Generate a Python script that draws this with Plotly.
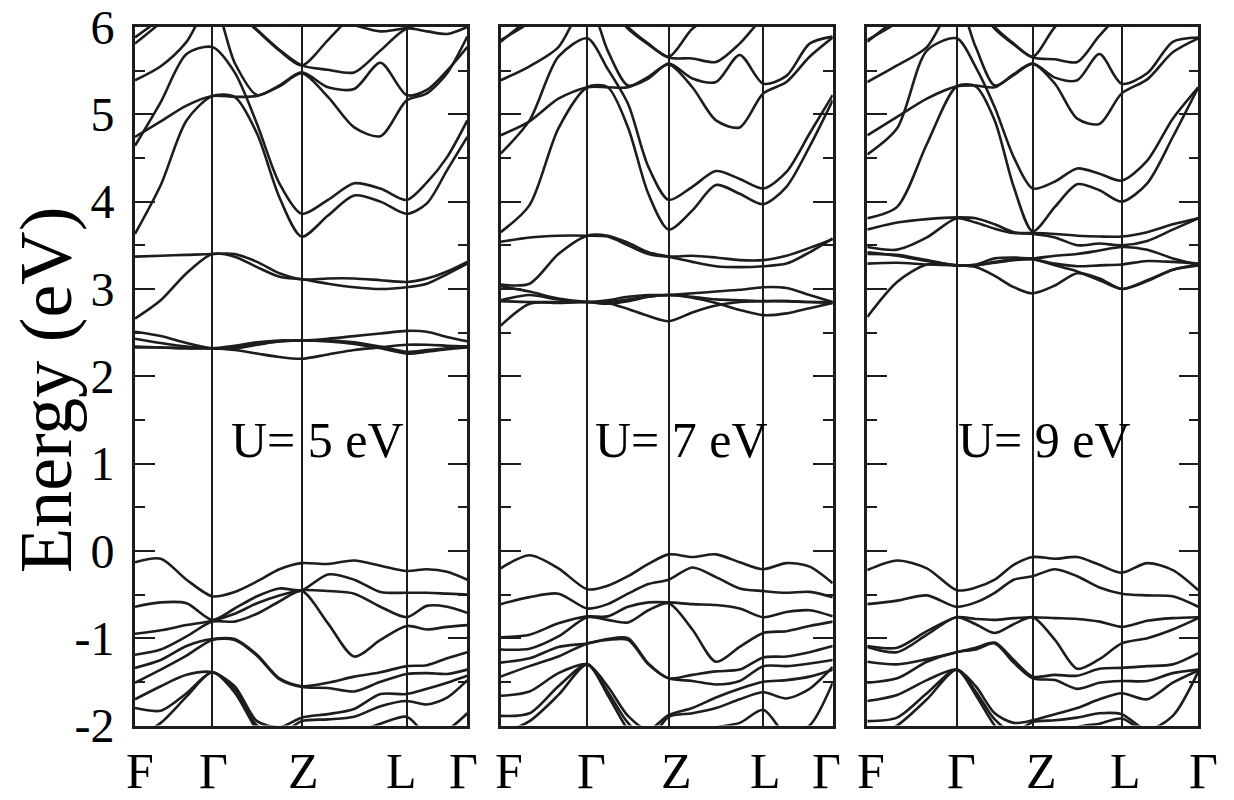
import numpy as np
import plotly.graph_objects as go

# k-path: positions of F, Gamma, Z, L, Gamma as a fraction of each panel
k_labels = ['F', 'Γ', 'Z', 'L', 'Γ']
kpath_u5 = [0.0, 0.2326, 0.5017, 0.8176, 1.0]
kpath_u7 = [0.0, 0.2608, 0.5060, 0.7910, 1.0]
kpath_u9 = [0.0, 0.2701, 0.4997, 0.7686, 1.0]
seg_steps = [3, 4, 4, 3]   # read-off points per path segment

# energies (eV), 15 points along the path
u5_conduction = [
    [2.33, 2.33, 2.32, 2.32, 2.30, 2.26, 2.22, 2.20, 2.25, 2.30, 2.33, 2.36, 2.36, 2.35, 2.34],
    [2.34, 2.33, 2.32, 2.32, 2.33, 2.37, 2.40, 2.41, 2.40, 2.37, 2.32, 2.26, 2.28, 2.31, 2.33],
    [2.43, 2.38, 2.34, 2.32, 2.35, 2.39, 2.41, 2.41, 2.43, 2.46, 2.49, 2.52, 2.51, 2.45, 2.40],
    [2.51, 2.46, 2.38, 2.32, 2.32, 2.36, 2.40, 2.41, 2.41, 2.39, 2.34, 2.28, 2.30, 2.32, 2.34],
    [2.66, 2.87, 3.18, 3.40, 3.37, 3.25, 3.14, 3.11, 3.06, 3.02, 3.00, 3.02, 3.06, 3.17, 3.29],
    [3.37, 3.38, 3.39, 3.40, 3.40, 3.31, 3.18, 3.11, 3.12, 3.12, 3.10, 3.08, 3.12, 3.20, 3.31],
    [3.63, 4.19, 4.93, 5.21, 5.20, 4.78, 4.05, 3.60, 3.84, 4.07, 4.00, 3.86, 3.98, 4.36, 4.74],
    [4.64, 5.14, 5.69, 5.77, 5.48, 4.89, 4.21, 3.86, 4.02, 4.21, 4.15, 4.02, 4.22, 4.51, 4.93],
    [4.74, 4.92, 5.10, 5.21, 5.20, 5.21, 5.32, 5.47, 5.20, 4.85, 4.75, 5.16, 5.24, 5.47, 5.89],
    [5.39, 5.55, 5.83, 6.30, 5.59, 5.22, 5.33, 5.48, 5.31, 5.29, 5.59, 5.22, 5.28, 5.50, 5.77],
    [5.81, 6.05, 6.30, 6.40, 6.19, 5.96, 5.73, 5.56, 5.85, 6.15, 6.30, 6.40, 6.40, 6.40, 6.40],
    [5.88, 6.10, 6.35, 6.45, 6.20, 5.97, 5.74, 5.56, 5.51, 5.48, 5.73, 5.98, 5.95, 5.92, 6.00],
    [6.30, 6.40, 6.50, 6.50, 6.45, 6.35, 6.25, 6.20, 6.10, 6.02, 5.95, 5.99, 6.05, 6.10, 6.10],
]
u5_valence = [
    [-0.13, -0.09, -0.33, -0.52, -0.47, -0.35, -0.21, -0.14, -0.15, -0.11, -0.17, -0.23, -0.21, -0.24, -0.33],
    [-0.64, -0.59, -0.60, -0.79, -0.66, -0.52, -0.43, -0.45, -0.27, -0.33, -0.47, -0.48, -0.48, -0.49, -0.50],
    [-0.95, -0.91, -0.85, -0.80, -0.72, -0.60, -0.51, -0.45, -0.46, -0.49, -0.64, -0.76, -0.63, -0.64, -0.71],
    [-1.19, -1.13, -0.98, -0.81, -0.81, -0.72, -0.58, -0.46, -0.83, -1.21, -1.02, -0.86, -0.90, -0.87, -0.85],
    [-1.34, -1.25, -1.09, -1.01, -1.01, -1.19, -1.46, -1.55, -1.51, -1.44, -1.39, -1.32, -1.31, -1.23, -1.16],
    [-1.51, -1.36, -1.20, -1.02, -1.02, -1.20, -1.47, -1.56, -1.57, -1.61, -1.50, -1.41, -1.40, -1.41, -1.36],
    [-1.70, -1.55, -1.42, -1.39, -1.55, -1.95, -2.02, -1.91, -1.87, -1.81, -1.64, -1.64, -1.58, -1.51, -1.43],
    [-1.80, -1.83, -1.63, -1.39, -1.58, -2.00, -2.10, -1.95, -1.93, -1.90, -1.78, -1.72, -1.76, -1.68, -1.48],
    [-2.15, -1.97, -1.67, -1.39, -1.62, -2.05, -2.30, -2.20, -2.10, -2.08, -1.98, -1.90, -2.10, -2.05, -1.86],
]

u7_conduction = [
    [2.58, 2.83, 2.84, 2.85, 2.84, 2.77, 2.69, 2.63, 2.73, 2.81, 2.85, 2.86, 2.86, 2.85, 2.84],
    [2.86, 2.85, 2.85, 2.85, 2.83, 2.86, 2.91, 2.93, 2.90, 2.84, 2.76, 2.70, 2.72, 2.78, 2.84],
    [2.87, 2.93, 2.88, 2.85, 2.87, 2.91, 2.93, 2.93, 2.95, 2.97, 2.99, 3.02, 3.01, 2.93, 2.85],
    [3.03, 2.97, 2.89, 2.85, 2.85, 2.88, 2.91, 2.93, 2.91, 2.88, 2.87, 2.86, 2.86, 2.85, 2.85],
    [3.05, 3.06, 3.40, 3.61, 3.61, 3.53, 3.42, 3.37, 3.31, 3.26, 3.25, 3.26, 3.29, 3.42, 3.58],
    [3.54, 3.59, 3.61, 3.61, 3.60, 3.50, 3.40, 3.37, 3.38, 3.36, 3.33, 3.33, 3.38, 3.47, 3.57],
    [3.65, 3.96, 4.84, 5.31, 5.31, 4.85, 4.09, 3.68, 3.90, 4.19, 4.09, 3.97, 4.17, 4.63, 5.16],
    [4.55, 4.93, 5.66, 5.87, 5.52, 5.12, 4.40, 4.02, 4.17, 4.35, 4.26, 4.15, 4.34, 4.78, 5.22],
    [4.76, 4.92, 5.18, 5.31, 5.31, 5.31, 5.43, 5.57, 5.31, 4.93, 4.85, 5.24, 5.37, 5.66, 5.88],
    [5.39, 5.55, 5.77, 6.30, 5.73, 5.33, 5.41, 5.58, 5.41, 5.37, 5.68, 5.35, 5.44, 5.81, 5.89],
    [5.83, 6.10, 6.35, 6.45, 6.30, 6.00, 5.81, 5.66, 5.98, 6.15, 6.30, 6.40, 6.40, 6.40, 6.40],
    [5.85, 6.05, 6.30, 6.40, 6.25, 5.98, 5.80, 5.65, 5.64, 5.60, 5.81, 6.10, 6.20, 6.30, 6.30],
]
u7_valence = [
    [-0.20, -0.05, -0.20, -0.44, -0.40, -0.29, -0.15, -0.04, -0.07, -0.04, -0.13, -0.21, -0.14, -0.18, -0.37],
    [-0.61, -0.53, -0.49, -0.66, -0.61, -0.49, -0.38, -0.33, -0.19, -0.30, -0.43, -0.46, -0.48, -0.47, -0.53],
    [-0.99, -0.96, -0.83, -0.75, -0.75, -0.64, -0.59, -0.59, -0.61, -0.62, -0.66, -0.76, -0.70, -0.68, -0.75],
    [-1.13, -1.12, -0.98, -0.76, -0.79, -0.82, -0.68, -0.60, -0.90, -1.27, -1.10, -0.94, -0.92, -0.86, -0.81],
    [-1.28, -1.23, -1.10, -1.06, -1.01, -1.00, -1.29, -1.46, -1.42, -1.38, -1.36, -1.22, -1.21, -1.16, -1.09],
    [-1.44, -1.32, -1.21, -1.06, -1.02, -1.02, -1.30, -1.46, -1.49, -1.53, -1.49, -1.32, -1.32, -1.29, -1.25],
    [-1.66, -1.61, -1.40, -1.30, -1.55, -1.89, -2.05, -1.88, -1.80, -1.68, -1.58, -1.50, -1.48, -1.44, -1.36],
    [-1.89, -1.86, -1.55, -1.30, -1.61, -1.97, -2.16, -1.90, -1.86, -1.80, -1.70, -1.62, -1.69, -1.58, -1.33],
    [-2.10, -1.95, -1.65, -1.30, -1.65, -2.05, -2.30, -2.20, -2.10, -2.02, -1.97, -1.82, -2.10, -2.00, -1.51],
]

u9_conduction = [
    [2.68, 3.08, 3.28, 3.27, 3.25, 3.15, 3.02, 2.95, 3.04, 3.18, 3.12, 3.00, 3.09, 3.22, 3.27],
    [3.42, 3.38, 3.32, 3.27, 3.27, 3.30, 3.33, 3.34, 3.27, 3.20, 3.10, 3.00, 3.10, 3.22, 3.28],
    [3.29, 3.30, 3.28, 3.27, 3.27, 3.31, 3.34, 3.34, 3.29, 3.26, 3.27, 3.28, 3.32, 3.31, 3.29],
    [3.40, 3.39, 3.33, 3.27, 3.28, 3.35, 3.36, 3.35, 3.38, 3.40, 3.44, 3.48, 3.45, 3.35, 3.28],
    [3.68, 3.76, 3.80, 3.82, 3.81, 3.74, 3.65, 3.63, 3.59, 3.50, 3.52, 3.50, 3.55, 3.68, 3.81],
    [3.48, 3.45, 3.59, 3.81, 3.76, 3.69, 3.64, 3.64, 3.63, 3.61, 3.60, 3.60, 3.65, 3.74, 3.81],
    [3.81, 3.94, 4.66, 5.32, 5.32, 4.93, 4.17, 3.66, 3.94, 4.20, 4.13, 4.00, 4.21, 4.74, 5.31],
    [4.54, 4.84, 5.73, 5.87, 5.54, 5.08, 4.51, 4.15, 4.23, 4.38, 4.32, 4.24, 4.47, 4.95, 5.31],
    [4.76, 4.97, 5.18, 5.32, 5.33, 5.31, 5.46, 5.58, 5.35, 4.95, 4.89, 5.24, 5.40, 5.71, 5.87],
    [5.37, 5.56, 5.77, 6.30, 5.77, 5.33, 5.45, 5.58, 5.42, 5.39, 5.69, 5.35, 5.47, 5.83, 5.88],
    [5.83, 6.10, 6.35, 6.45, 6.30, 6.00, 5.81, 5.66, 6.00, 6.20, 6.35, 6.40, 6.40, 6.40, 6.40],
    [5.85, 6.05, 6.30, 6.40, 6.25, 5.98, 5.80, 5.65, 5.63, 5.60, 5.90, 6.15, 6.20, 6.20, 6.20],
]
u9_valence = [
    [-0.22, -0.11, -0.20, -0.45, -0.42, -0.33, -0.16, -0.07, -0.09, -0.07, -0.16, -0.25, -0.14, -0.22, -0.45],
    [-0.61, -0.57, -0.51, -0.64, -0.59, -0.48, -0.33, -0.29, -0.21, -0.29, -0.42, -0.49, -0.51, -0.52, -0.64],
    [-1.09, -1.11, -0.92, -0.76, -0.78, -0.79, -0.77, -0.76, -0.77, -0.78, -0.81, -0.87, -0.80, -0.77, -0.76],
    [-1.10, -1.16, -0.96, -0.76, -0.84, -0.94, -0.84, -0.76, -1.02, -1.35, -1.24, -1.06, -1.00, -0.90, -0.77],
    [-1.27, -1.30, -1.24, -1.16, -1.11, -1.05, -1.25, -1.44, -1.42, -1.43, -1.35, -1.34, -1.32, -1.30, -1.17],
    [-1.51, -1.46, -1.27, -1.16, -1.13, -1.06, -1.28, -1.46, -1.48, -1.58, -1.51, -1.49, -1.49, -1.40, -1.36],
    [-1.72, -1.65, -1.48, -1.36, -1.55, -1.86, -1.97, -1.94, -1.87, -1.80, -1.70, -1.63, -1.70, -1.51, -1.37],
    [-1.95, -1.91, -1.63, -1.36, -1.61, -1.93, -2.08, -1.96, -1.94, -1.91, -1.86, -1.87, -2.05, -1.89, -1.38],
    [-2.15, -2.00, -1.70, -1.36, -1.65, -2.00, -2.20, -2.20, -2.15, -2.02, -1.98, -1.92, -2.10, -2.20, -2.10],
]

u_values = ['5', '7', '9']

INK = '#1e1c1d'
SERIF = 'Liberation Serif, Times New Roman, serif'
W, H = 1234, 800
PAGE_PAD = 8   # the browser puts the plot 8px in from the page corner


def px_x(px):
    return (px - PAGE_PAD) / W


def px_y(py):
    return 1 - (py - PAGE_PAD) / H


def k_grid(kp):
    pts = [kp[0]]
    for a, b, n in zip(kp[:-1], kp[1:], seg_steps):
        pts += list(np.linspace(a, b, n + 1)[1:])
    return pts


panels = [
    (kpath_u5, u5_conduction + u5_valence),
    (kpath_u7, u7_conduction + u7_valence),
    (kpath_u9, u9_conduction + u9_valence),
]
x_domains = [[px_x(135), px_x(467.3)], [px_x(500.7), px_x(832.7)], [px_x(867.3), px_x(1198.3)]]
y_domain = [px_y(725.5), px_y(27)]
# small horizontal nudges (px) of the k-point labels, as in the original
label_nudge = [[5, 1, 2, -5, -4], [8, 4, 8, 2, -6], [4, 5, 9, 4, 5]]

fig = go.Figure()
annotations = []
for i, (kp, bands) in enumerate(panels):
    n = '' if i == 0 else str(i + 1)
    kx = k_grid(kp)
    for band in bands:
        fig.add_trace(go.Scatter(x=kx, y=band, mode='lines',
                                 line=dict(color=INK, width=2.6, shape='spline', smoothing=0.8),
                                 xaxis='x' + n, yaxis='y' + n,
                                 showlegend=False, hoverinfo='skip'))

    fig.update_layout(**{
        'xaxis' + n: dict(domain=x_domains[i], range=[0, 1], showline=True, mirror=True,
                          linecolor=INK, linewidth=2.6, showgrid=True, gridcolor=INK, gridwidth=2.4,
                          tickvals=kp[1:4], showticklabels=False, ticks='', zeroline=False,
                          automargin=False, anchor='y' + n),
        'yaxis' + n: dict(domain=y_domain, range=[-2, 6], showline=True, mirror='ticks',
                          linecolor=INK, linewidth=2.6, showgrid=False, zeroline=False,
                          ticks='inside', ticklen=20, tickwidth=2, tickcolor=INK,
                          tickvals=list(range(-2, 7)),
                          ticktext=[str(v) for v in range(-2, 7)],
                          showticklabels=(i == 0), ticklabelstandoff=8,
                          ticklabeloverflow='allow',
                          tickfont=dict(family=SERIF, size=48, color='black'),
                          minor=dict(ticks='inside', ticklen=10, tickwidth=2, tickcolor=INK,
                                     tickvals=[v + 0.5 for v in range(-2, 6)]),
                          automargin=False, anchor='x' + n),
    })

    for lab, kv, dx in zip(k_labels, kp, label_nudge[i]):
        annotations.append(dict(x=kv, y=px_y(771), xref='x' + n, yref='paper', text=lab,
                                showarrow=False, xshift=dx, xanchor='center', yanchor='middle',
                                font=dict(family=SERIF, size=50, color='black')))

    annotations.append(dict(x=[0.548, 0.546, 0.535][i], y=1.27, xref='x' + n, yref='y' + n,
                            text='U= %s eV' % u_values[i], showarrow=False,
                            xanchor='center', yanchor='middle',
                            font=dict(family=SERIF, size=50, color='black')))

annotations.append(dict(x=px_x(46), y=px_y(390), xref='paper', yref='paper', text='Energy (eV)',
                        textangle=-90, showarrow=False, xanchor='center', yanchor='middle',
                        font=dict(family=SERIF, size=74, color='black')))

fig.update_layout(width=W, height=H, margin=dict(l=0, r=0, t=0, b=0, autoexpand=False),
                  paper_bgcolor='white', plot_bgcolor='white', annotations=annotations)

fig.write_html('out.html')
